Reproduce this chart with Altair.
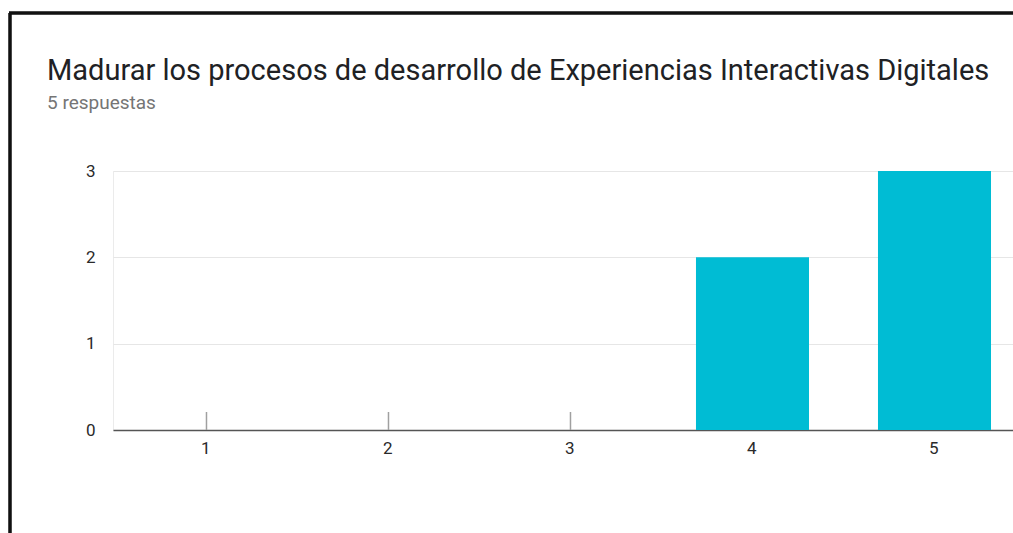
import altair as alt
import pandas as pd

title_text = "Madurar los procesos de desarrollo de Experiencias Interactivas Digitales"
subtitle_text = "5 respuestas"
categories = ["1", "2", "3", "4", "5"]
counts = [0, 0, 0, 2, 3]
y_ticks = [0, 0.5, 1, 1.5, 2, 2.5, 3]

df = pd.DataFrame({"cat": categories, "n": counts})

FONT = "Roboto"

x_scale = alt.Scale(domain=categories, paddingInner=0.379, paddingOuter=0.162, align=0.627)
y_scale = alt.Scale(domain=[0, 3], nice=False)

x_enc = alt.X(
    "cat:N", scale=x_scale, sort=categories, title=None,
    axis=alt.Axis(labelAngle=0, ticks=False, domain=True, domainColor="#555555",
                  domainWidth=1.5, labelPadding=18, labelFontSize=17, labelOffset=4,
                  labelColor="#2a2a2a", labelFont=FONT, grid=False),
)

bars = alt.Chart(df).mark_bar(color="#00bcd4").encode(
    x=x_enc,
    y=alt.Y("n:Q", scale=y_scale, title=None,
            axis=alt.Axis(values=y_ticks, format="d",
                          labelExpr="datum.value % 1 === 0 ? datum.label : ''",
                          ticks=False, domain=False, labelPadding=18, labelFontSize=17,
                          labelColor="#2a2a2a", labelFont=FONT,
                          gridColor={"condition": {"test": "datum.value % 1 === 0", "value": "#e6e6e6"},
                                     "value": "#f0f0f0"},
                          gridWidth=1.2)),
)

zero_marks = alt.Chart(df).mark_rule(color="#a0a0a0", strokeWidth=1.5).encode(
    x=alt.X("cat:N", scale=x_scale, sort=categories),
    y=alt.value(241),
    y2=alt.value(259),
)

frame_left = alt.Chart(df).mark_rule(color="#111111", strokeWidth=2.5).encode(
    x=alt.value(-103), y=alt.value(-158), y2=alt.value(362)
)
frame_top = alt.Chart(df).mark_rule(color="#111111", strokeWidth=2.5).encode(
    x=alt.value(-104), x2=alt.value(900), y=alt.value(-158)
)

chart = alt.layer(zero_marks, bars, frame_left, frame_top).properties(
    width=900,
    height=259,
    padding={"left": 113, "top": 171, "right": 0, "bottom": 103},
    autosize=alt.AutoSizeParams(type="none"),
    background="white",
    title=alt.TitleParams(
        text=title_text,
        subtitle=subtitle_text,
        anchor="start",
        frame="group",
        dx=-66,
        offset=-101,
        font=FONT,
        fontSize=29,
        fontWeight="normal",
        color="#202124",
        subtitleFont=FONT,
        subtitleFontSize=19,
        subtitleColor="#757575",
        subtitlePadding=8,
    ),
).configure_view(stroke="#ebebeb", strokeWidth=1)

chart.save("out.html", embed_options={"renderer": "svg", "actions": False})
